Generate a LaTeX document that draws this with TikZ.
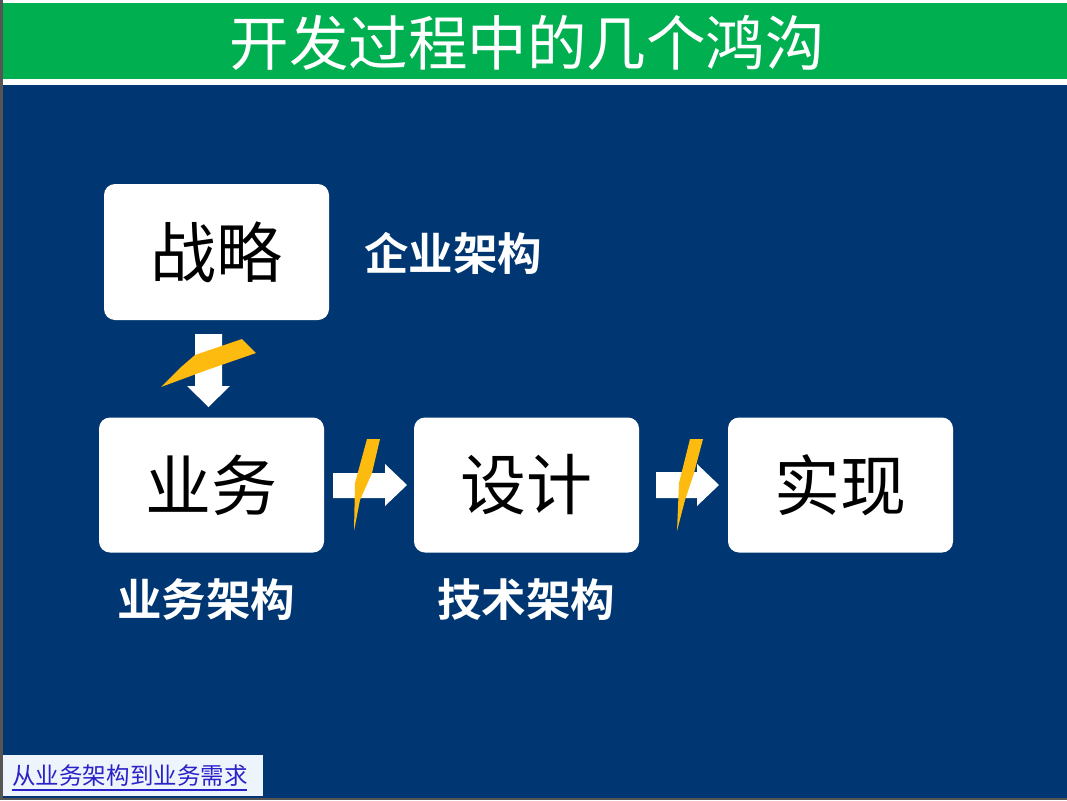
\documentclass[tikz,border=0pt]{standalone}
\usepackage{fontspec}
\setmainfont{Liberation Sans}
\newfontfamily\cjk{Noto Sans CJK SC}
\newfontfamily\cjkb{Noto Sans CJK SC Bold}
\definecolor{navy}{HTML}{003671}
\definecolor{barg}{HTML}{00B050}
\definecolor{bolt}{HTML}{FDBB0F}
\definecolor{edgeg}{HTML}{555555}
\definecolor{linkc}{HTML}{2A22C8}
\definecolor{linkbg}{HTML}{EEF4FC}
\tikzset{
  x=1pt,y=-1pt,
  card/.style={fill=white,draw=none,rounded corners=11pt,minimum width=225pt,minimum height=135pt,inner sep=0pt,font=\cjk\fontsize{66}{66}\selectfont,text=black},
  tag/.style={text=white,inner sep=0pt,font=\cjkb\fontsize{44.5}{44.5}\selectfont},
  blockarrow/.style={fill=white,draw=none},
  boltshape/.style={fill=bolt,draw=none}
}
\begin{document}
\begin{tikzpicture}
\useasboundingbox (0,0) rectangle (1067,800);
\fill[edgeg] (0,0) rectangle (1067,800);
\fill[navy] (3,85) rectangle (1067,798);
\fill[white] (3,0) rectangle (1067,85);
\fill[barg] (3,3) rectangle (1067,79);
\node[text=white,inner sep=0pt,font=\cjk\fontsize{59.5}{60}\selectfont] (title) at (527,43) {开发过程中的几个鸿沟};

\node[card,minimum height=136pt] (s) at (216.5,252) {\raisebox{1.5pt}{战略}};
\node[card] (b) at (211.5,485) {\raisebox{1.5pt}{业务}};
\node[card] (d) at (526.5,485) {\raisebox{1.5pt}{设计}};
\node[card] (r) at (840.5,485) {\raisebox{1.5pt}{实现}};

\node[tag] (t1) at (453,253) {企业架构};
\node[tag] (t2) at (206,600) {业务架构};
\node[tag] (t3) at (526,600) {技术架构};

% block arrows
\fill[blockarrow] (195,334) -- (222,334) -- (222,386) -- (230,386) -- (208.5,407) -- (187,386) -- (195,386) -- cycle;
\fill[blockarrow] (333,473) -- (385,473) -- (385,464) -- (407,485) -- (385,506) -- (385,498) -- (333,498) -- cycle;
\fill[blockarrow] (656,472) -- (697,472) -- (697,464) -- (719,485) -- (697,506) -- (697,498) -- (656,498) -- cycle;

% lightning bolts
\fill[boltshape] (161,387) -- (180,368) -- (195,355) -- (242,339) -- (256,353) -- (207,370) -- cycle;
\fill[boltshape] (367,439) -- (380,439) -- (372,473) -- (360,500) -- (354,531) -- (355,483) -- cycle;
\fill[boltshape] (690,439) -- (703,439) -- (694,473) -- (685,500) -- (677,531) -- (679,483) -- cycle;

% link
\fill[linkbg] (3,755) rectangle (263,796);
\node[text=linkc,inner sep=0pt,font=\cjk\fontsize{23.5}{24}\selectfont] (link) at (130,775.5) {从业务架构到业务需求};
\draw[linkc,line width=1.5pt] (12,790) -- (247,790);
\end{tikzpicture}
\end{document}
